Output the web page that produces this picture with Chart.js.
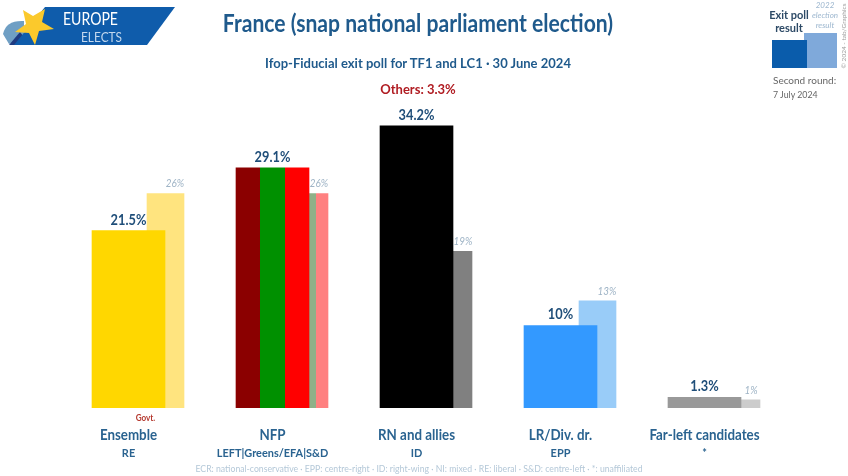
<!DOCTYPE html>
<html>
<head>
<meta charset="utf-8">
<script src="https://cdn.jsdelivr.net/npm/chart.js@4"></script>
<style>
body { margin: 0; background: #fff; font-family: Lato, sans-serif; color: #1f5a8c; }
#wrap { position: relative; width: 848px; height: 476px; overflow: hidden; }
#chart { position: absolute; left: 0; top: 0; }
.t { position: absolute; white-space: nowrap; transform: translate(-50%, -50%); }
.l { position: absolute; white-space: nowrap; transform: translateY(-50%); }
#logo { position: absolute; left: 0; top: 0; }
</style>
</head>
<body>
<div id="wrap">
  <canvas id="chart" width="848" height="476"></canvas>

  <svg id="logo" width="180" height="50" font-family="Lato">
    <path d="M3 34 Q6 20 24 21 L24 40 L9 44 Z" fill="#6f9fc4"/>
    <path d="M9 45 L20 32 L30 45 Z" fill="#1f3a80"/>
    <path d="M45 7 L175 7 L147 45 L14 45 Z" fill="#0f5cab"/>
    <polygon points="23,10 33,16 45,9 42,22 54,29 39,31 35,45 29,33 15,32 26,24" fill="#fbc92c"/>
    <text x="63" y="25" font-size="18" fill="#fff" textLength="55" lengthAdjust="spacingAndGlyphs">EUROPE</text>
    <text x="81" y="42" font-size="14" fill="#c3d8ee" textLength="41" lengthAdjust="spacingAndGlyphs">ELECTS</text>
  </svg>

  <div class="t" style="left:418px;top:22px;font-size:24px;font-weight:700;transform:translate(-50%,-50%) scaleX(.88)">France (snap national parliament election)</div>
  <div class="t" style="left:418px;top:62px;font-size:14px;font-weight:700;transform:translate(-50%,-50%) scaleX(.93)">Ifop-Fiducial exit poll for TF1 and LC1 · 30 June 2024</div>
  <div class="t" style="left:418px;top:88px;font-size:14px;font-weight:700;color:#b01c22;transform:translate(-50%,-50%) scaleX(.93)">Others: 3.3%</div>

  <div class="t" style="left:789px;top:14px;font-size:11px;font-weight:700;color:#2d4a66">Exit poll</div>
  <div class="t" style="left:789px;top:27px;font-size:11px;font-weight:700;color:#2d4a66">result</div>
  <div class="t" style="left:825px;top:5px;font-size:8px;font-style:italic;color:#9db7cf">2022</div>
  <div class="t" style="left:825px;top:15px;font-size:8px;font-style:italic;color:#9db7cf">election</div>
  <div class="t" style="left:825px;top:25px;font-size:8px;font-style:italic;color:#9db7cf">result</div>
  <div style="position:absolute;left:804px;top:33px;width:33px;height:35px;background:#7fa9da"></div>
  <div style="position:absolute;left:772px;top:40px;width:35px;height:28px;background:#0a5cab"></div>
  <div class="l" style="left:773px;top:80px;font-size:10px;color:#666">Second round:</div>
  <div class="l" style="left:773px;top:94px;font-size:8.8px;color:#666">7 July 2024</div>
  <div class="t" style="left:843px;top:36px;font-size:6.5px;color:#999;transform:translate(-50%,-50%) rotate(-90deg)">© 2024 - tab/Graphics</div>

  <div class="t" style="left:419px;top:468px;font-size:8.7px;color:#b4c8d8">ECR: national-conservative · EPP: centre-right · ID: right-wing · NI: mixed · RE: liberal · S&amp;D: centre-left · *: unaffiliated</div>
</div>

<script>
const categories = ['Ensemble', 'NFP', 'RN and allies', 'LR/Div. dr.', 'Far-left candidates'];
const groups = ['RE', 'LEFT|Greens/EFA|S&D', 'ID', 'EPP', '*'];
const exitPoll = [21.5, 29.1, 34.2, 10, 1.3];
const previous = [26, 26, 19, 13, 1];
const exitLabels = ['21.5%', '29.1%', '34.2%', '10%', '1.3%'];
const previousLabels = ['26%', '26%', '19%', '13%', '1%'];
const exitColors = ['#ffd700', null, '#000000', '#3399ff', '#999999'];
const previousColors = ['#ffe47f', null, '#808080', '#99ccf8', '#cccccc'];

// NFP is split in three party colours
const nfpStripes = ['#8b0000', '#009000', '#ff0000'];
const nfpStripesLight = ['#c58080', '#8fb088', '#ff8080'];

const exitWidth = 73;
const prevWidth = 37;
const prevOffset = prevWidth / 144;

// hard stop gradient for the striped NFP bars
function stripes(ctx, left, width, colors) {
    const g = ctx.createLinearGradient(left, 0, left + width, 0);
    colors.forEach((c, i) => {
        g.addColorStop(i / colors.length, c);
        g.addColorStop((i + 1) / colors.length, c);
    });
    return g;
}

// the original font is narrow, so squeeze Lato horizontally
function narrowText(ctx, text, x, y, font, color, squeeze) {
    ctx.save();
    ctx.translate(x, y);
    ctx.scale(squeeze, 1);
    ctx.font = font;
    ctx.fillStyle = color;
    ctx.fillText(text, 0, 0);
    ctx.restore();
}

const barLabels = {
    id: 'barLabels',
    afterDatasetsDraw(chart) {
        const ctx = chart.ctx;
        const exitBars = chart.getDatasetMeta(0).data;
        const prevBars = chart.getDatasetMeta(1).data;
        const bottom = chart.scales.y.getPixelForValue(0);
        ctx.save();
        ctx.textAlign = 'center';
        exitBars.forEach((bar, i) => {
            narrowText(ctx, exitLabels[i], bar.x, bar.y - 6, '700 16px Lato', '#1f4e79', 0.8);

            const prev = prevBars[i];
            narrowText(ctx, previousLabels[i], prev.x + prev.width / 2 - 9, prev.y - 6, 'italic 11px Lato', '#9fb4c6', 0.9);

            narrowText(ctx, categories[i], bar.x, bottom + 32, '700 15px Lato', '#2a6390', 0.89);
            narrowText(ctx, groups[i], bar.x, bottom + 49, '700 12px Lato', '#2a6390', 0.91);

            if (i === 0) {
                narrowText(ctx, 'Govt.', bar.x + 17, bottom + 13, '700 9px Lato', '#b5392f', 0.9);
            }
        });
        ctx.restore();
    }
};

new Chart(document.getElementById('chart'), {
    type: 'bar',
    plugins: [barLabels],
    data: {
        datasets: [
            {
                label: 'Exit poll result',
                data: categories.map((c, i) => ({ x: i, y: exitPoll[i] })),
                barThickness: exitWidth,
                grouped: false,
                order: 1,
                backgroundColor(c) {
                    if (c.dataIndex !== 1) return exitColors[c.dataIndex];
                    const left = c.chart.scales.x.getPixelForValue(1) - exitWidth / 2;
                    return stripes(c.chart.ctx, left, exitWidth, nfpStripes);
                }
            },
            {
                label: '2022 election result',
                data: categories.map((c, i) => ({ x: i + prevOffset, y: previous[i] })),
                barThickness: prevWidth,
                grouped: false,
                order: 2,
                backgroundColor(c) {
                    if (c.dataIndex !== 1) return previousColors[c.dataIndex];
                    const left = c.chart.scales.x.getPixelForValue(1 + prevOffset) - prevWidth / 2;
                    return stripes(c.chart.ctx, left, prevWidth, nfpStripesLight);
                }
            }
        ]
    },
    options: {
        responsive: false,
        animation: false,
        layout: { padding: { bottom: 68 } },
        plugins: { legend: { display: false }, tooltip: { enabled: false } },
        scales: {
            x: { type: 'linear', display: false, offset: false, min: -0.8924, max: 4.9965 },
            y: { display: false, min: 0, max: 49.45 }
        }
    }
});
</script>
</body>
</html>
